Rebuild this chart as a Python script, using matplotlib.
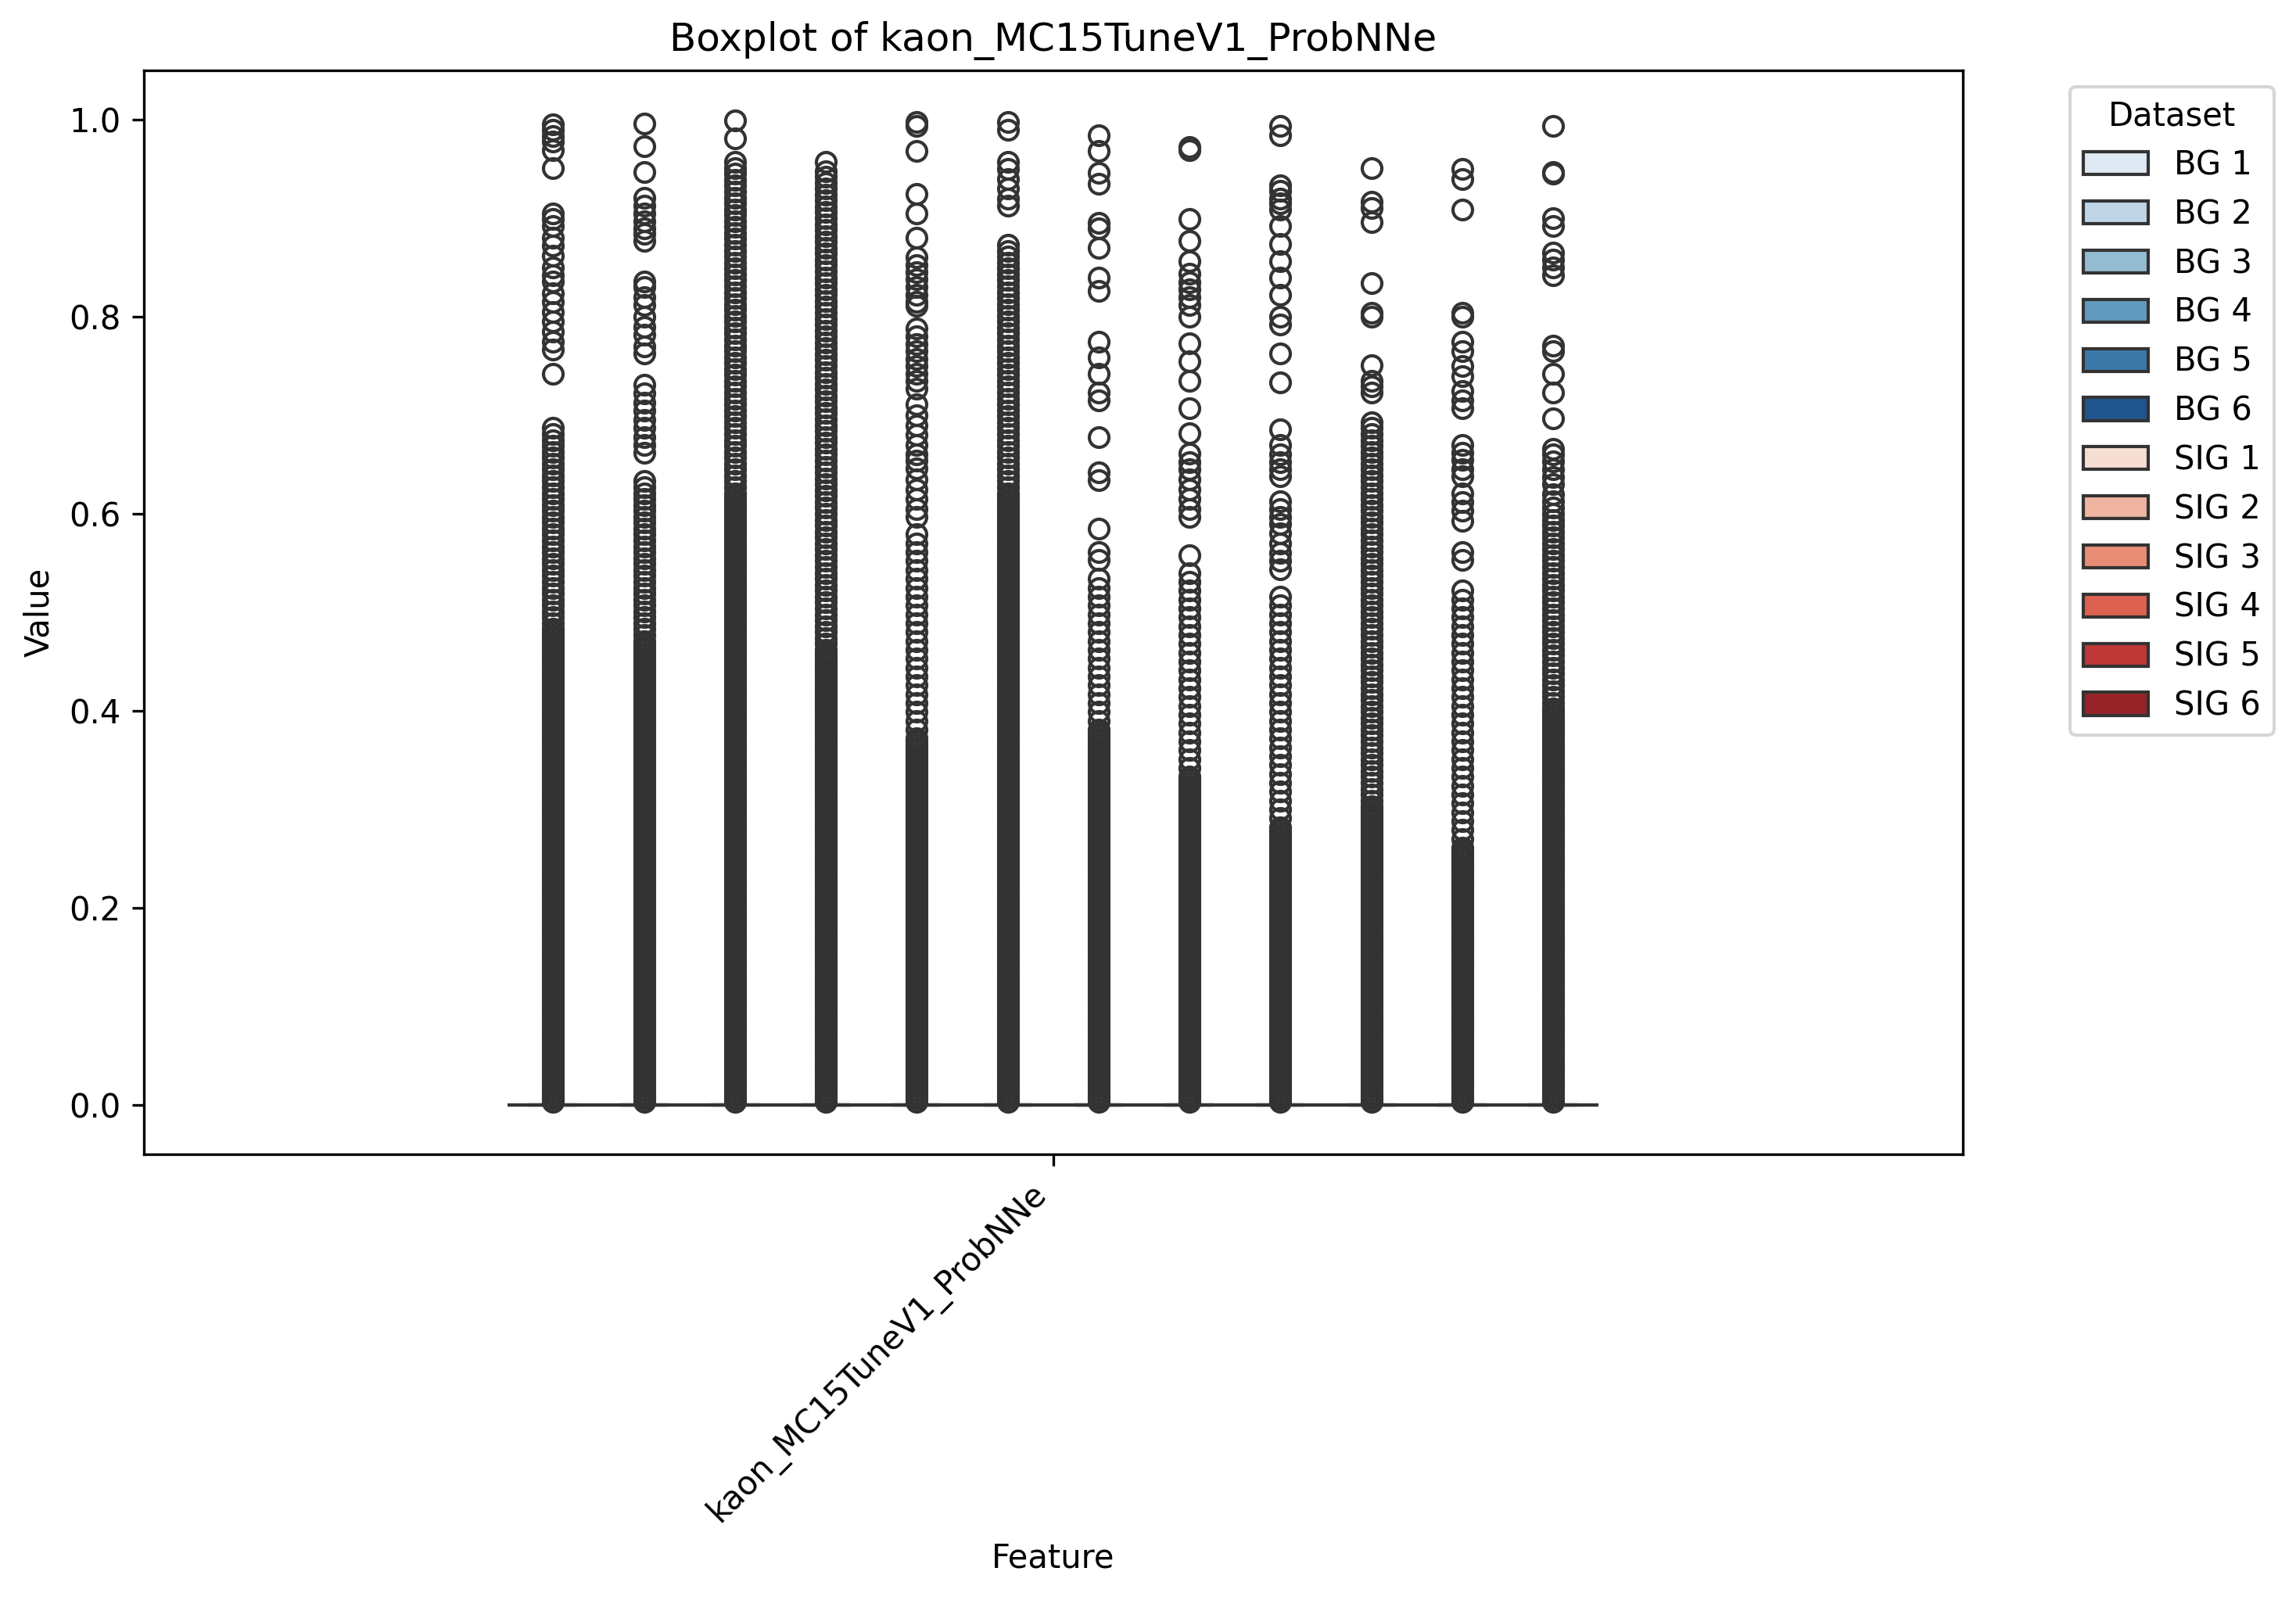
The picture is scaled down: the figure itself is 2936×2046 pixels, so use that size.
import numpy as np
import pandas as pd
import matplotlib
matplotlib.use("Agg")
import matplotlib.pyplot as plt
import seaborn as sns

# ================================
# DATA
# ================================

FEATURE = "kaon_MC15TuneV1_ProbNNe"

DATASETS = ["BG 1", "BG 2", "BG 3", "BG 4", "BG 5", "BG 6",
            "SIG 1", "SIG 2", "SIG 3", "SIG 4", "SIG 5", "SIG 6"]

# almost every entry is exactly 0 -> box, median and whiskers collapse onto 0
N_ZERO = 1500

# levels (in 1/1000) where the outliers pile up into a solid column
DENSE_GRID = [
    3, 6, 9, 12, 15, 18, 21, 24, 27, 30, 33, 36, 39, 42, 45, 48, 51, 54, 57, 60,
    63, 66, 69, 72, 75, 78, 81, 84, 87, 90, 93, 96, 99, 102, 105, 108, 111, 114, 117, 120,
    123, 126, 129, 132, 135, 138, 141, 144, 147, 150, 153, 156, 159, 162, 165, 168, 171, 174, 177, 180,
    183, 186, 189, 192, 195, 198, 201, 204, 207, 210, 213, 216, 219, 222, 225, 228, 231, 234, 237, 240,
    243, 246, 249, 252, 255, 258, 261, 264, 267, 270, 273, 276, 279, 282, 285, 288, 291, 294, 297, 300,
    303, 306, 309, 312, 315, 318, 321, 324, 327, 330, 333, 336, 339, 342, 345, 348, 351, 354, 357, 360,
    363, 366, 369, 372, 375, 378, 381, 384, 387, 390, 393, 396, 399, 402, 405, 408, 411, 414, 417, 420,
    423, 426, 429, 432, 435, 438, 441, 444, 447, 450, 453, 456, 459, 462, 465, 468, 471, 474, 477, 480,
    483, 486, 489, 492, 495, 498, 501, 504, 507, 510, 513, 516, 519, 522, 525, 528, 531, 534, 537, 540,
    543, 546, 549, 552, 555, 558, 561, 564, 567, 570, 573, 576, 579, 582, 585, 588, 591, 594, 597, 600,
    603, 606, 609, 612, 615, 618, 621, 624, 627, 630, 633, 636, 639, 642, 645, 648, 651, 654, 657, 660,
    663, 666, 669, 672, 675, 678, 681, 684, 687, 690, 693, 696, 699, 702, 705, 708, 711, 714, 717, 720,
    723, 726, 729, 732, 735, 738, 741, 744, 747, 750, 753, 756, 759, 762, 765, 768, 771, 774, 777, 780,
    783, 786, 789, 792, 795, 798, 801, 804, 807, 810, 813, 816, 819, 822, 825, 828, 831, 834, 837, 840,
    843, 846, 849, 852, 855, 858, 861, 864, 867, 870, 873, 876, 879, 882, 885, 888, 891, 894, 897, 900,
    903, 906, 909, 912, 915, 918, 921, 924, 927, 930, 933, 936, 939, 942, 945, 948, 951, 954, 957, 960,
]

# value up to which each column is solid, and up to which it is still crowded
dense_top = [0.48, 0.47, 0.62, 0.46, 0.37, 0.62, 0.38, 0.33, 0.28, 0.30, 0.26, 0.40]
semi_top = [0.69, 0.638, 0.96, 0.95, 0.585, 0.873, 0.536, 0.544, 0.516, 0.698, 0.528, 0.609]
# how thinned-out the crowded part looks (every n-th level)
semi_step = [2, 2, 2, 2, 3, 2, 3, 3, 3, 2, 3, 2]

# isolated outliers above the crowded part
bg1_sparse = [0.995, 0.990, 0.983, 0.978, 0.969, 0.951, 0.905, 0.899, 0.892, 0.880,
              0.872, 0.862, 0.850, 0.842, 0.836, 0.824, 0.815, 0.805, 0.795, 0.785,
              0.775, 0.767, 0.742]
bg2_sparse = [0.996, 0.973, 0.947, 0.921, 0.913, 0.905, 0.897, 0.890, 0.884, 0.877,
              0.836, 0.830, 0.820, 0.812, 0.800, 0.790, 0.782, 0.770, 0.763, 0.731,
              0.722, 0.713, 0.705, 0.695, 0.687, 0.678, 0.670, 0.662]
bg3_sparse = [0.999, 0.981]
bg4_sparse = [0.957]
bg5_sparse = [0.998, 0.994, 0.968, 0.925, 0.905, 0.880, 0.860, 0.852, 0.845, 0.838,
              0.830, 0.822, 0.815, 0.811, 0.788, 0.780, 0.772, 0.765, 0.757, 0.750,
              0.742, 0.735, 0.727, 0.711, 0.700, 0.690, 0.680, 0.670, 0.660, 0.654,
              0.646, 0.635, 0.625, 0.615, 0.605, 0.597]
bg6_sparse = [0.998, 0.990, 0.957, 0.950, 0.940, 0.930, 0.920, 0.913]
sig1_sparse = [0.984, 0.968, 0.946, 0.935, 0.895, 0.890, 0.870, 0.840, 0.826, 0.775,
               0.759, 0.742, 0.723, 0.715, 0.678, 0.642, 0.634, 0.585, 0.561, 0.553]
sig2_sparse = [0.972, 0.969, 0.899, 0.877, 0.856, 0.844, 0.835, 0.828, 0.820, 0.812,
               0.800, 0.773, 0.755, 0.735, 0.707, 0.682, 0.661, 0.652, 0.645, 0.635,
               0.625, 0.615, 0.605, 0.597, 0.558]
sig3_sparse = [0.994, 0.984, 0.933, 0.928, 0.920, 0.915, 0.909, 0.892, 0.874, 0.856,
               0.840, 0.822, 0.800, 0.792, 0.763, 0.733, 0.686, 0.670, 0.660, 0.652,
               0.645, 0.638, 0.613, 0.605, 0.597, 0.590, 0.580, 0.570, 0.560, 0.552,
               0.544]
sig4_sparse = [0.951, 0.917, 0.910, 0.896, 0.834, 0.804, 0.800, 0.751, 0.735, 0.729,
               0.723]
sig5_sparse = [0.950, 0.940, 0.909, 0.804, 0.800, 0.775, 0.765, 0.750, 0.740, 0.725,
               0.715, 0.707, 0.670, 0.662, 0.655, 0.645, 0.638, 0.621, 0.612, 0.603,
               0.593, 0.561, 0.553]
sig6_sparse = [0.994, 0.947, 0.945, 0.900, 0.892, 0.865, 0.858, 0.850, 0.842, 0.771,
               0.765, 0.742, 0.723, 0.697, 0.666, 0.660, 0.653, 0.645, 0.637, 0.630,
               0.620, 0.613]

sparse = [bg1_sparse, bg2_sparse, bg3_sparse, bg4_sparse, bg5_sparse, bg6_sparse,
          sig1_sparse, sig2_sparse, sig3_sparse, sig4_sparse, sig5_sparse, sig6_sparse]


# ================================
# BUILD LONG TABLE
# ================================

levels = [g / 1000 for g in DENSE_GRID]

rows = []
for i, name in enumerate(DATASETS):
    solid = [v for v in levels if v <= dense_top[i]]
    crowded = [v for v in levels if dense_top[i] < v <= semi_top[i]][::semi_step[i]]
    values = [0.0] * N_ZERO + solid + crowded + sparse[i]
    for v in values:
        rows.append((FEATURE, name, v))

df = pd.DataFrame(rows, columns=["Feature", "Dataset", "Value"])

palette = sns.color_palette("Blues", 6) + sns.color_palette("Reds", 6)


# ================================
# FIGURE
# ================================

fig = plt.figure(figsize=(9.79, 6.82), dpi=300)
ax = fig.add_axes([0.0625, 0.2786, 0.7921, 0.6774])

sns.boxplot(data=df, x="Feature", y="Value", hue="Dataset", palette=palette, ax=ax)

ax.set_xlim(-0.667, 0.667)
ax.set_ylim(-0.05, 1.05)
ax.set_title(f"Boxplot of {FEATURE}")
ax.set_xlabel("Feature")
ax.set_ylabel("Value")
plt.setp(ax.get_xticklabels(), rotation=45, ha="right")

sns.move_legend(ax, "upper left", bbox_to_anchor=(1.05, 1), title="Dataset")

fig.savefig("out.png", dpi=300)
